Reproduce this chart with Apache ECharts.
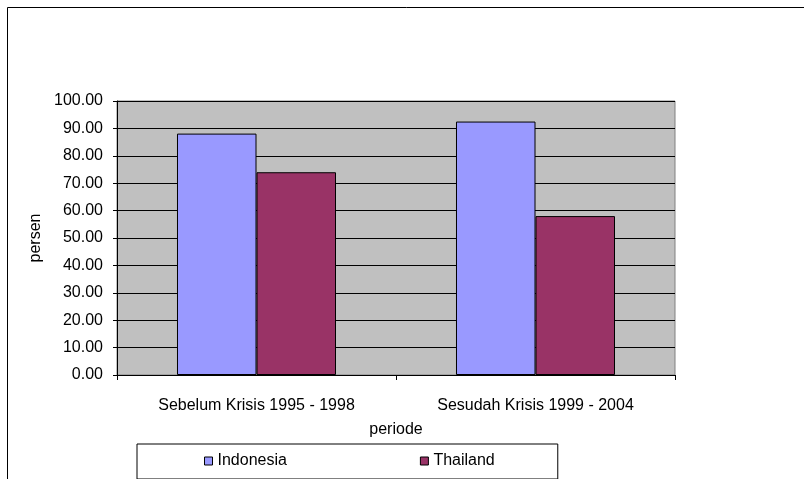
<!DOCTYPE html>
<html>
<head>
<meta charset="utf-8">
<title>persen per periode</title>
<script src="https://cdn.jsdelivr.net/npm/echarts@6/dist/echarts.min.js"></script>
<style>
    html, body { margin: 0; padding: 0; background: #fff; }
    #chartMain { width: 804px; height: 479px; }
</style>
</head>
<body>
<div id="chartMain"></div>
<script>
// data
const categories = ['Sebelum Krisis 1995 - 1998', 'Sesudah Krisis 1999 - 2004'];
const indonesia = [88.1, 92.5];
const thailand = [74.0, 58.0];
const seriesNames = ['Indonesia', 'Thailand'];

const fontName = "'Liberation Sans', Arial, sans-serif";

let myChart = echarts.init(document.getElementById('chartMain'));

let option = {
    animation: false,
    textStyle: {
        fontFamily: fontName,
        color: '#000'
    },
    // outer chart frame, runs off the window on the right and bottom
    graphic: [{
        type: 'rect',
        shape: { x: 7.5, y: 7.5, width: 900, height: 600 },
        style: { fill: 'none', stroke: '#000', lineWidth: 1 },
        z: -1
    }],
    legend: {
        data: seriesNames,
        left: 137,
        top: 444,
        orient: 'horizontal',
        icon: 'rect',
        itemWidth: 8,
        itemHeight: 8,
        itemGap: 133,
        padding: [9, 63, 10, 67],
        borderColor: '#000',
        borderWidth: 1,
        backgroundColor: '#fff',
        textStyle: {
            fontFamily: fontName,
            fontSize: 16,
            color: '#000'
        },
        itemStyle: {
            borderColor: '#000',
            borderWidth: 1
        }
    },
    grid: {
        left: 117,
        right: 129,
        top: 101,
        bottom: 104,
        show: true,
        backgroundColor: '#C0C0C0',
        borderColor: '#808080',
        borderWidth: 1
    },
    xAxis: {
        type: 'category',
        data: categories,
        name: 'periode',
        nameLocation: 'middle',
        nameGap: 47,
        nameTextStyle: { fontFamily: fontName, fontSize: 16, color: '#000' },
        axisLine: { lineStyle: { color: '#000', width: 1 } },
        axisTick: { show: true, length: 5, lineStyle: { color: '#000' } },
        axisLabel: {
            fontFamily: fontName,
            fontSize: 16,
            color: '#000',
            margin: 23
        }
    },
    yAxis: {
        type: 'value',
        min: 0,
        max: 100,
        interval: 10,
        name: 'persen',
        nameLocation: 'middle',
        nameRotate: 90,
        nameGap: 71,
        nameTextStyle: { fontFamily: fontName, fontSize: 16, color: '#000' },
        axisLine: { show: true, lineStyle: { color: '#000', width: 1 } },
        axisTick: { show: true, length: 4, lineStyle: { color: '#000' } },
        axisLabel: {
            fontFamily: fontName,
            fontSize: 16,
            color: '#000',
            margin: 14,
            formatter: function (v) { return v.toFixed(2); }
        },
        splitLine: { show: true, lineStyle: { color: '#000', width: 1 } }
    },
    series: [
        {
            name: seriesNames[0],
            type: 'bar',
            data: indonesia,
            barGap: '0%',
            barCategoryGap: '43%',
            itemStyle: { color: '#9999FF', borderColor: '#000', borderWidth: 1 }
        },
        {
            name: seriesNames[1],
            type: 'bar',
            data: thailand,
            barGap: '0%',
            barCategoryGap: '43%',
            itemStyle: { color: '#993366', borderColor: '#000', borderWidth: 1 }
        }
    ]
};

myChart.setOption(option);
</script>
</body>
</html>
